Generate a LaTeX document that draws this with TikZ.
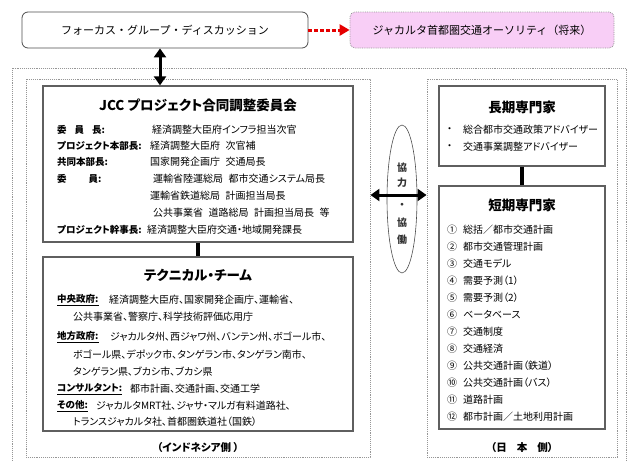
\documentclass[tikz,border=0pt]{standalone}
\usepackage{fontspec}
\setmainfont{Noto Sans CJK JP}[RawFeature=+palt]
\newfontfamily\fullJP{Noto Sans CJK JP}
\usetikzlibrary{arrows.meta,shapes.geometric,calc}
\newcommand\myfs[1]{\fontsize{#1}{#1}\selectfont}
\newcommand\gp{\hspace{0.55em}}
\definecolor{pinkfill}{RGB}{248,206,246}
\definecolor{framegray}{RGB}{150,150,150}
\definecolor{panelgray}{RGB}{95,95,95}
\tikzset{
  frame/.style={draw=framegray, densely dotted, line width=0.9pt, inner sep=0},
  panel/.style={draw=panelgray, line width=1.3pt, inner sep=0},
  topbox/.style={draw=black!70, line width=0.8pt, rounded corners=6pt, inner sep=0, font=\fullJP\myfs{11}},
  pinkbox/.style={draw=framegray, densely dotted, line width=0.8pt, fill=pinkfill, rounded corners=5pt, inner sep=0, font=\fullJP\myfs{11}},
  ptitle/.style={inner sep=0, font=\bfseries\myfs{13.5}},
  txt/.style={inner sep=0, anchor=west, font=\myfs{10}},
  lbl/.style={inner sep=0, anchor=west, font=\bfseries\myfs{9.5}},
  sidelbl/.style={inner sep=0, font=\bfseries\myfs{10.5}},
  coop/.style={inner sep=0, font=\bfseries\myfs{10}, text=black!80},
  linkline/.style={line width=3.6pt, black},
  dblarrow/.style={line width=3pt, black, {Triangle[length=9pt,width=12pt]}-{Triangle[length=9pt,width=12pt]}},
  redarrow/.style={line width=3pt, red!90!black, dash pattern=on 3.5pt off 2.5pt, -{Triangle[length=10pt,width=11pt]}},
  ell/.style={ellipse, draw=black!70, line width=0.6pt, inner sep=0, minimum width=30pt, minimum height=148pt}
}
\begin{document}
\begin{tikzpicture}[x=1pt,y=-1pt]
\useasboundingbox (0,0) rectangle (628,461);
% top boxes
\node[topbox, minimum width=286pt, minimum height=36pt] (fgd) at (165,30) {フォーカス・グループ・ディスカッション};
\node[pinkbox, minimum width=264pt, minimum height=36pt] (jta) at (482,30) {ジャカルタ首都圏交通オーソリティ（将来）};
\draw[redarrow] (fgd.east) -- (jta.west);
% outer frame
\draw[frame] (12,470) -- (12,68) -- (626,68) -- (626,470);
% side frames
\node[frame, minimum width=344pt, minimum height=378pt] (indo) at (198,268) {};
\node[frame, minimum width=190pt, minimum height=378pt] (japan) at (522,268) {};
% panels
\node[panel, minimum width=310pt, minimum height=156pt] (jcc) at (198,164) {};
\node[panel, minimum width=310pt, minimum height=174pt] (tech) at (198,344) {};
\node[panel, minimum width=166pt, minimum height=80pt] (long) at (522,126) {};
\node[panel, minimum width=166pt, minimum height=243pt] (short) at (522,307.5) {};
\draw[linkline] (jcc.south) -- (tech.north);
\draw[linkline] (long.south) -- (short.north);
\draw[dblarrow] ([xshift=-5pt]fgd.south) -- ([xshift=-5pt]fgd.south |- jcc.north);
% cooperation
\node[ell] (coopell) at (402,199) {};
\coordinate (arrowy) at (402,195);
\draw[dblarrow] (indo.east |- arrowy) -- (japan.west |- arrowy);
\node[coop] (c1) at (402,168) {協};
\node[coop] (c2) at (402,183) {力};
\node[coop] (c3) at (402,206) {・};
\node[coop] (c4) at (402,223) {協};
\node[coop] (c5) at (402,240) {働};
% JCC text
\node[ptitle] (jcct) at (198,105) {JCC プロジェクト合同調整委員会};
\node[lbl] (jl1) at (57,130) {委\hspace{8pt}員\hspace{8pt}長:};
\node[txt] (jv1) at (152,130) {経済調整大臣府インフラ担当次官};
\node[lbl] (jl2) at (57,146) {プロジェクト本部長:};
\node[txt] (jv2) at (150,146) {経済調整大臣府\gp 次官補};
\node[lbl] (jl3) at (57,162) {共同本部長:};
\node[txt] (jv3) at (150,162) {国家開発企画庁\gp 交通局長};
\node[lbl] (jl4) at (57,179) {委\hspace{22pt}員:};
\node[txt] (jv4) at (153,179) {運輸省陸運総局\gp 都市交通システム局長};
\node[txt] (jv5) at (150,196) {運輸省鉄道総局\gp 計画担当局長};
\node[txt] (jv6) at (153,213) {公共事業省\gp 道路総局\gp 計画担当局長\gp 等};
\node[lbl] (jl7) at (57,230) {プロジェクト幹事長:};
\node[txt] (jv7) at (147,230) {経済調整大臣府交通・地域開発課長};
% technical team text
\node[ptitle] (techt) at (198,275) {テクニカル・チーム};
\node[lbl] (tl1) at (57,300) {\underline{中央政府:}};
\node[txt] (tv1) at (109,300) {経済調整大臣府、国家開発企画庁、運輸省、};
\node[txt] (tv2) at (73,317) {公共事業省、警察庁、科学技術評価応用庁};
\node[lbl] (tl3) at (57,337) {\underline{地方政府:}};
\node[txt] (tv3) at (110,337) {ジャカルタ州、西ジャワ州、バンテン州、ボゴール市、};
\node[txt] (tv4) at (73,355) {ボゴール県、デポック市、タンゲラン市、タンゲラン南市、};
\node[txt] (tv5) at (73,372) {タンゲラン県、ブカシ市、ブカシ県};
\node[lbl] (tl6) at (57,389) {\underline{コンサルタント:}};
\node[txt] (tv6) at (130,389) {都市計画、交通計画、交通工学};
\node[lbl] (tl7) at (57,406) {\underline{その他:}};
\node[txt] (tv7) at (96,406) {ジャカルタMRT社、ジャサ・マルガ有料道路社、};
\node[txt] (tv8) at (73,422) {トランスジャカルタ社、首都圏鉄道社（国鉄）};
\node[sidelbl] (indol) at (198,447) {（インドネシア側 ）};
% Japan side text
\node[ptitle] (longt) at (522,107) {長期専門家};
\node[txt] (lb1) at (447,130) {・};
\node[txt] (lv1) at (463,130) {総合都市交通政策アドバイザー};
\node[txt] (lb2) at (447,147) {・};
\node[txt] (lv2) at (463,147) {交通事業調整アドバイザー};
\node[ptitle] (shortt) at (522,205) {短期専門家};
\node[txt] (s1) at (447,230) {①\hspace{6pt}総括／都市交通計画};
\node[txt] (s2) at (447,247) {②\hspace{6pt}都市交通管理計画};
\node[txt] (s3) at (447,264) {③\hspace{6pt}交通モデル};
\node[txt] (s4) at (447,281) {④\hspace{6pt}需要予測（1）};
\node[txt] (s5) at (447,298) {⑤\hspace{6pt}需要予測（2）};
\node[txt] (s6) at (447,315) {⑥\hspace{6pt}ベータベース};
\node[txt] (s7) at (447,332) {⑦\hspace{6pt}交通制度};
\node[txt] (s8) at (447,349) {⑧\hspace{6pt}交通経済};
\node[txt] (s9) at (447,366) {⑨\hspace{6pt}公共交通計画（鉄道）};
\node[txt] (s10) at (447,383) {⑩\hspace{6pt}公共交通計画（バス）};
\node[txt] (s11) at (447,400) {⑪\hspace{6pt}道路計画};
\node[txt] (s12) at (447,417) {⑫\hspace{6pt}都市計画／土地利用計画};
\node[sidelbl] (japl) at (522,447) {（日\hspace{10pt}本\hspace{10pt}側）};
\end{tikzpicture}
\end{document}
